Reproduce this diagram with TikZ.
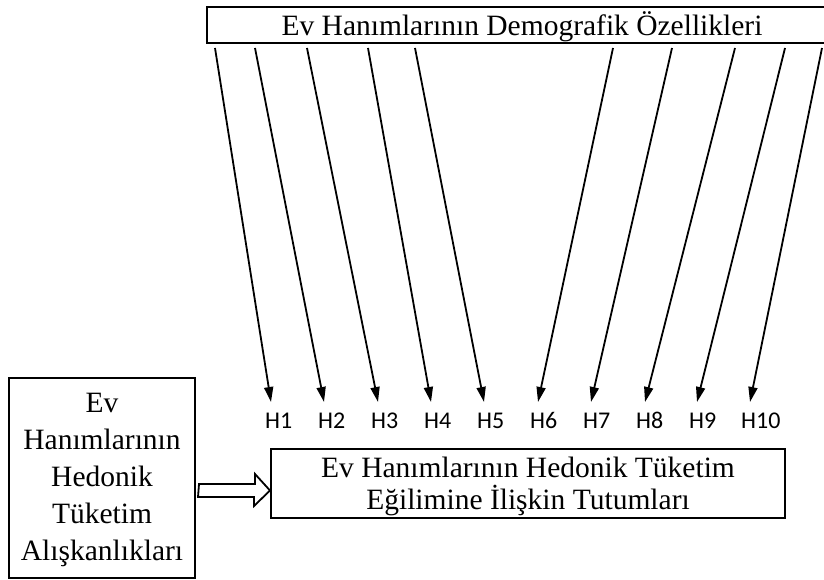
\documentclass[tikz,border=0pt]{standalone}
\usepackage{fontspec}
\setmainfont{Liberation Serif}
\newfontfamily\calib{Carlito}
\usetikzlibrary{arrows.meta,calc}
\begin{document}
\begin{tikzpicture}[x=1pt,y=-1pt,
  boxstyle/.style={draw,line width=2pt,inner sep=0pt},
  serif/.style={font=\fontsize{29.5}{37}\selectfont},
  hlab/.style={font=\calib\fontsize{24}{28}\selectfont,anchor=base west,inner sep=0pt},
  hyp/.style={line width=1.8pt,-{Triangle[length=15pt,width=9pt]}},
  blockarrow/.style={draw,line width=1.8pt,line join=miter,fill=white}]
\useasboundingbox (0,0) rectangle (824,580);
\clip (0,0) rectangle (824,580);
\fill[white] (0,0) rectangle (824,580);
% top box
\node[boxstyle,minimum width=630pt,minimum height=36pt] (demo) at (522,25) {};
\node[serif,inner sep=0pt] (demotext) at (522,27) {Ev Hanımlarının Demografik Özellikleri};
% bottom box
\node[boxstyle,minimum width=514pt,minimum height=69pt] (tut) at (528,483.5) {};
\node[inner sep=0pt,align=center,font=\fontsize{29.5}{32}\selectfont] (tuttext) at (528,486) {Ev Hanımlarının Hedonik Tüketim\\Eğilimine İlişkin Tutumları};
% left box
\node[boxstyle,minimum width=186pt,minimum height=200pt] (habit) at (102,478) {};
\node[inner sep=0pt,align=center,font=\fontsize{29.5}{37}\selectfont] (habittext) at (102,480) {Ev\\Hanımlarının\\Hedonik\\Tüketim\\Alışkanlıkları};
% H labels
\node[hlab] (h1) at (265,428) {H1};
\node[hlab] (h2) at (318,428) {H2};
\node[hlab] (h3) at (371,428) {H3};
\node[hlab] (h4) at (424,428) {H4};
\node[hlab] (h5) at (477,428) {H5};
\node[hlab] (h6) at (530,428) {H6};
\node[hlab] (h7) at (583,428) {H7};
\node[hlab] (h8) at (636,428) {H8};
\node[hlab] (h9) at (689,428) {H9};
\node[hlab] (h10) at (741,428) {H10};
% arrow ends
\coordinate (s1) at (215,48);  \coordinate (t1) at (271,402);
\coordinate (s2) at (255,48);  \coordinate (t2) at (324,402);
\coordinate (s3) at (307,48);  \coordinate (t3) at (378,402);
\coordinate (s4) at (368,48);  \coordinate (t4) at (431,402);
\coordinate (s5) at (415,48);  \coordinate (t5) at (484,402);
\coordinate (s6) at (613,48);  \coordinate (t6) at (538,402);
\coordinate (s7) at (672,48);  \coordinate (t7) at (591,402);
\coordinate (s8) at (735,48);  \coordinate (t8) at (645,402);
\coordinate (s9) at (785,48);  \coordinate (t9) at (697,402);
\coordinate (s10) at (822,48); \coordinate (t10) at (750,402);
\foreach \i in {1,...,10} { \draw[hyp] (s\i) -- (t\i); }
% block arrow
\coordinate (bs) at (199,490.5);
\draw[blockarrow] (bs) ++(0,-6.5) -- ++(56,0) -- ++(0,-10) -- (tut.west |- bs) -- ++(-16,15.5) -- ++(0,-9) -- ++(-56,0) -- cycle;
\end{tikzpicture}
\end{document}
